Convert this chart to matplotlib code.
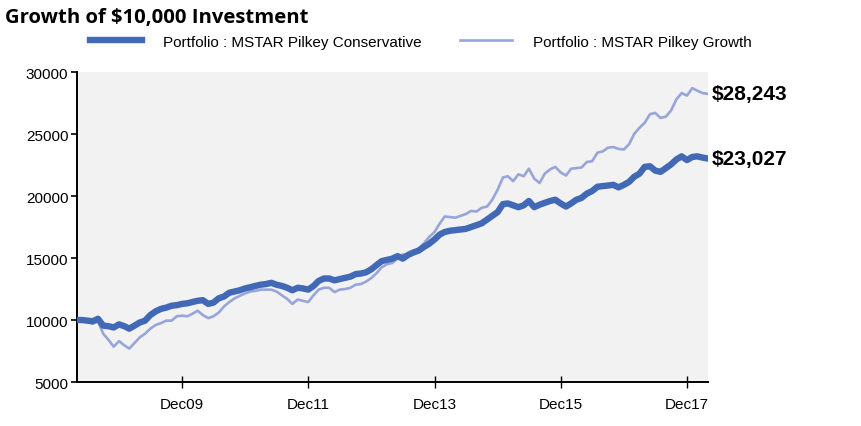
import matplotlib
matplotlib.use("Agg")
import matplotlib.pyplot as plt
import matplotlib.dates as mdates
import pandas as pd

# monthly values, Apr 2008 - Apr 2018 (in $)
months = pd.date_range("2008-04-30", periods=121, freq="ME")

conservative = [
    10000, 10000, 9950, 9900, 10100, 9550, 9500, 9400, 9650, 9500,
    9300, 9550, 9800, 9950, 10400, 10700, 10900, 11000, 11150, 11200,
    11300, 11350, 11450, 11550, 11600, 11300, 11400, 11750, 11900, 12200,
    12300, 12400, 12550, 12650, 12750, 12850, 12900, 13000, 12850, 12750,
    12600, 12400, 12600, 12550, 12450, 12750, 13150, 13350, 13350, 13200,
    13300, 13400, 13500, 13700, 13750, 13850, 14100, 14450, 14750, 14850,
    14950, 15150, 14950, 15250, 15450, 15600, 15900, 16150, 16500, 16900,
    17100, 17200, 17250, 17300, 17350, 17500, 17650, 17800, 18100, 18400,
    18700, 19350, 19400, 19250, 19100, 19250, 19600, 19100, 19300, 19450,
    19600, 19700, 19400, 19150, 19400, 19700, 19850, 20200, 20400, 20750,
    20800, 20850, 20900, 20700, 20900, 21150, 21550, 21800, 22350, 22400,
    22050, 21950, 22250, 22550, 22950, 23200, 22900, 23150, 23200, 23100,
    23027,
]

growth = [
    10000, 10000, 9900, 9700, 9900, 8900, 8400, 7850, 8300, 7950,
    7700, 8150, 8600, 8900, 9300, 9600, 9750, 9950, 9950, 10300,
    10350, 10300, 10500, 10750, 10400, 10150, 10300, 10600, 11100, 11450,
    11750, 11950, 12150, 12300, 12350, 12450, 12450, 12450, 12300, 12000,
    11700, 11300, 11650, 11550, 11450, 12000, 12450, 12600, 12600, 12250,
    12450, 12500, 12600, 12850, 12900, 13100, 13400, 13800, 14250, 14500,
    14600, 14950, 15300, 15200, 15450, 15750, 16200, 16700, 17100, 17800,
    18350, 18300, 18250, 18400, 18550, 18800, 18750, 19050, 19150, 19700,
    20500, 21500, 21600, 21200, 21750, 21600, 22200, 21400, 21050, 21800,
    22150, 22350, 21900, 21650, 22200, 22250, 22300, 22750, 22800, 23500,
    23600, 23900, 23950, 23800, 23750, 24200, 25000, 25500, 25900, 26600,
    26700, 26300, 26400, 26900, 27800, 28300, 28100, 28700, 28500, 28300,
    28243,
]

series_names = ["Portfolio : MSTAR Pilkey Conservative",
                "Portfolio : MSTAR Pilkey Growth"]
yticks = [5000, 10000, 15000, 20000, 25000, 30000]
xtick_dates = pd.to_datetime(["2009-12-31", "2011-12-31", "2013-12-31",
                              "2015-12-31", "2017-12-31"])


def main():
    plt.rcParams["font.family"] = ["Liberation Sans", "DejaVu Sans"]

    fig = plt.figure(figsize=(8.62, 4.27), dpi=100)
    ax = fig.add_axes([0.089, 0.103, 0.732, 0.726])
    ax.set_facecolor("#f2f2f2")

    ax.plot(months, conservative, color="#4169b5", lw=4.6,
            solid_joinstyle="round", label=series_names[0], zorder=3)
    ax.plot(months, growth, color="#98a5d9", lw=1.9,
            label=series_names[1], zorder=2)

    ax.set_xlim(months[0], months[-1])
    ax.set_ylim(5000, 30000)
    ax.set_yticks(yticks)
    ax.set_xticks(xtick_dates)
    ax.xaxis.set_major_formatter(mdates.DateFormatter("%b%y"))

    for side in ["top", "right"]:
        ax.spines[side].set_visible(False)
    for side in ["left", "bottom"]:
        ax.spines[side].set_linewidth(1.4)
        ax.spines[side].set_color("black")

    ax.tick_params(axis="y", direction="out", length=4, width=1.2,
                   labelsize=11, pad=2)
    ax.tick_params(axis="x", direction="inout", length=8, width=1.0,
                   labelsize=11, pad=7)

    # end value labels
    for vals in [growth, conservative]:
        ax.annotate(f"${vals[-1]:,}", xy=(months[-1], vals[-1]),
                    xytext=(3, 0), textcoords="offset points",
                    ha="left", va="center", fontsize=15,
                    fontweight="bold", annotation_clip=False)

    fig.text(0.006, 0.958, "Growth of $10,000 Investment",
             family="Open Sans", fontweight="bold", fontsize=14.6,
             ha="left", va="center")

    fig.legend(loc="center left", bbox_to_anchor=(0.089, 0.90), ncol=2,
               frameon=False, fontsize=11, handlelength=3.4,
               handletextpad=1.37, columnspacing=2.5)

    fig.savefig("out.png", dpi=100)


if __name__ == "__main__":
    main()
